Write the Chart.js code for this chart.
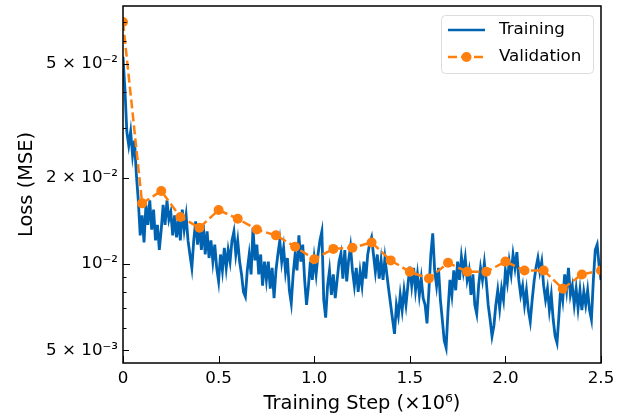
<!DOCTYPE html>
<html>
<head>
<meta charset="utf-8">
<script src="https://cdn.jsdelivr.net/npm/chart.js@4/dist/chart.umd.min.js"></script>
<style>
  html, body { margin: 0; padding: 0; background: #fff; }
  #wrap { width: 629px; height: 418px; position: relative; }
</style>
</head>
<body>
<div id="wrap"><canvas id="lossChart"></canvas></div>
<script>
// training loss, one reading every 0.01 x10^6 steps
var trainStepSize = 0.01;
var trainLoss = [
  0.053, 0.041, 0.029, 0.026, 0.029, 0.024, 0.027, 0.0205, 0.0167, 0.0126,
  0.0148, 0.0119, 0.0161, 0.0137, 0.0167, 0.0132, 0.0155, 0.0121, 0.0137, 0.0112,
  0.0132, 0.0161, 0.0137, 0.0167, 0.0143, 0.0152, 0.0126, 0.0148, 0.0124, 0.0143,
  0.0121, 0.0155, 0.0132, 0.0148, 0.0121, 0.0108, 0.0097, 0.0121, 0.0141, 0.0117,
  0.0137, 0.0112, 0.0137, 0.0108, 0.0130, 0.0105, 0.0121, 0.0102, 0.0117, 0.0097,
  0.0087, 0.0108, 0.0095, 0.0114, 0.0097, 0.0112, 0.0102, 0.0121, 0.0130, 0.0108,
  0.0121, 0.0102, 0.0092, 0.0080, 0.0077, 0.0095, 0.0108, 0.0092, 0.0134, 0.0103,
  0.0117, 0.0092, 0.0108, 0.0084, 0.0102, 0.0088, 0.0102, 0.0082, 0.0097, 0.0076,
  0.0095, 0.0108, 0.0121, 0.0102, 0.0114, 0.0094, 0.0105, 0.0081, 0.0073, 0.0092,
  0.0108, 0.0095, 0.0126, 0.0102, 0.0117, 0.0088, 0.0072, 0.0084, 0.0102, 0.0088,
  0.0105, 0.0092, 0.0108, 0.0121, 0.0130, 0.0075, 0.0065, 0.0084, 0.0095, 0.0078,
  0.0092, 0.0076, 0.0088, 0.0102, 0.0109, 0.0089, 0.0112, 0.0087, 0.0103, 0.0115,
  0.0095, 0.0084, 0.0097, 0.0080, 0.0094, 0.0084, 0.0102, 0.0089, 0.0108, 0.0118,
  0.0124, 0.0108, 0.0094, 0.0108, 0.0089, 0.0103, 0.0088, 0.0105, 0.0092, 0.0081,
  0.0072, 0.0064, 0.0057, 0.0072, 0.0066, 0.0078, 0.0069, 0.0081, 0.0072, 0.0084,
  0.0098, 0.0084, 0.0097, 0.0081, 0.0092, 0.0078, 0.0089, 0.0076, 0.0072, 0.0062,
  0.0081, 0.0108, 0.0128, 0.0095, 0.0084, 0.0097, 0.0075, 0.0064, 0.0054, 0.0051,
  0.0069, 0.0088, 0.0078, 0.0095, 0.0081, 0.0102, 0.0088, 0.0106, 0.0094, 0.0105,
  0.0088, 0.0095, 0.0078, 0.0092, 0.0072, 0.0067, 0.0084, 0.0097, 0.0088, 0.0101,
  0.0087, 0.0072, 0.0064, 0.0056, 0.0061, 0.0072, 0.0081, 0.0070, 0.0082, 0.0075,
  0.0095, 0.0086, 0.0102, 0.0092, 0.0108, 0.0097, 0.0110, 0.0088, 0.0078, 0.0084,
  0.0072, 0.0081, 0.0069, 0.0063, 0.0075, 0.0087, 0.0097, 0.0105, 0.0094, 0.0102,
  0.0084, 0.0075, 0.0082, 0.0069, 0.0078, 0.0064, 0.0056, 0.0053, 0.0066, 0.0084,
  0.0075, 0.0092, 0.0081, 0.0097, 0.0078, 0.0084, 0.0072, 0.0082, 0.0070, 0.0081,
  0.0069, 0.0080, 0.0072, 0.0081, 0.0069, 0.0064, 0.0088, 0.0112, 0.0117, 0.0099, 0.0088
];

var valSteps = [0, 0.1, 0.2, 0.3, 0.4, 0.5, 0.6, 0.7, 0.8, 0.9, 1.0, 1.1, 1.2,
  1.3, 1.4, 1.5, 1.6, 1.7, 1.8, 1.9, 2.0, 2.1, 2.2, 2.3, 2.4, 2.5];
var valLoss = [0.0702, 0.0163, 0.0180, 0.0146, 0.0134, 0.01545, 0.0144, 0.0132,
  0.0126, 0.0115, 0.0104, 0.0113, 0.0114, 0.0119, 0.0103, 0.0094, 0.0089, 0.0101,
  0.0094, 0.0094, 0.0102, 0.0095, 0.0095, 0.0082, 0.0092, 0.0095];

var xTicks = [0, 0.5, 1.0, 1.5, 2.0, 2.5];
var yTicks = [0.005, 0.006, 0.007, 0.008, 0.009, 0.01, 0.02, 0.03, 0.04, 0.05, 0.06, 0.07];
var yTickLabels = { 0.005: "5 × 10⁻³", 0.01: "10⁻²", 0.02: "2 × 10⁻²", 0.05: "5 × 10⁻²" };

var FONT = "'DejaVu Sans', sans-serif";
var BLUE = "#0063b1";
var ORANGE = "#ff7f0e";

function yLabel(v) {
  for (var k in yTickLabels) {
    if (Math.abs(parseFloat(k) - v) < 1e-9) return yTickLabels[k];
  }
  return "";
}

// frame, inward ticks and the legend box
var framePlugin = {
  id: "frame",
  afterDraw: function (chart) {
    var ctx = chart.ctx;
    var a = chart.chartArea;
    var xs = chart.scales.x, ys = chart.scales.y;
    ctx.save();
    ctx.strokeStyle = "#000";
    ctx.lineWidth = 1;
    xTicks.forEach(function (v) {
      var px = Math.round(xs.getPixelForValue(v)) + 0.5;
      ctx.beginPath();
      ctx.moveTo(px, a.bottom);
      ctx.lineTo(px, a.bottom - 7);
      ctx.stroke();
    });
    yTicks.forEach(function (v) {
      var py = Math.round(ys.getPixelForValue(v)) + 0.5;
      var len = yLabel(v) ? (v === 0.01 ? 7 : 6) : 3.5;
      ctx.beginPath();
      ctx.moveTo(a.left, py);
      ctx.lineTo(a.left + len, py);
      ctx.stroke();
    });
    ctx.lineWidth = 1.5;
    ctx.strokeRect(a.left, a.top, a.right - a.left, a.bottom - a.top);

    // legend
    var bx = 441, by = 15, bw = 152, bh = 58;
    ctx.beginPath();
    ctx.roundRect(bx + 0.5, by + 0.5, bw, bh, 4);
    ctx.fillStyle = "rgba(255,255,255,0.8)";
    ctx.fill();
    ctx.strokeStyle = "#dcdcdc";
    ctx.lineWidth = 1;
    ctx.stroke();
    ctx.font = "16.7px " + FONT;
    ctx.textBaseline = "middle";
    ctx.fillStyle = "#000";
    chart.data.datasets.forEach(function (ds, i) {
      var ly = ds.label === "Training" ? 30 : 57;
      ctx.strokeStyle = ds.borderColor;
      ctx.lineWidth = 2.5;
      ctx.setLineDash(ds.borderDash || []);
      ctx.beginPath();
      ctx.moveTo(448, ly);
      ctx.lineTo(485, ly);
      ctx.stroke();
      ctx.setLineDash([]);
      if (ds.pointRadius) {
        ctx.fillStyle = ds.pointBackgroundColor;
        ctx.beginPath();
        ctx.arc(466.5, ly, ds.pointRadius, 0, Math.PI * 2);
        ctx.fill();
      }
      ctx.fillStyle = "#000";
      ctx.fillText(ds.label, 499, ly);
    });
    ctx.restore();
  }
};

var ctx = document.getElementById("lossChart").getContext("2d");
new Chart(ctx, {
  type: "line",
  data: {
    datasets: [
      {
        label: "Validation",
        data: valSteps.map(function (s, i) { return { x: s, y: valLoss[i] }; }),
        borderColor: ORANGE,
        backgroundColor: ORANGE,
        pointBackgroundColor: ORANGE,
        pointBorderWidth: 0,
        pointRadius: 5,
        borderWidth: 2.5,
        borderDash: [9, 4],
        tension: 0,
        clip: 0,
        order: 0
      },
      {
        label: "Training",
        data: trainLoss.map(function (v, i) { return { x: i * trainStepSize, y: v }; }),
        borderColor: BLUE,
        backgroundColor: BLUE,
        pointRadius: 0,
        borderWidth: 2.8,
        tension: 0,
        clip: 0,
        order: 1
      }
    ]
  },
  options: {
    responsive: true,
    maintainAspectRatio: false,
    animation: false,
    layout: { padding: { left: 0, right: 28, top: 6, bottom: 0 } },
    plugins: { legend: { display: false }, tooltip: { enabled: false } },
    scales: {
      x: {
        type: "linear",
        min: 0,
        max: 2.5,
        afterBuildTicks: function (axis) {
          axis.ticks = xTicks.map(function (v) { return { value: v }; });
        },
        afterFit: function (scale) {
          scale.height = 55;
          scale.paddingLeft = 0;
          scale.paddingRight = 0;
        },
        grid: { display: false, drawTicks: false },
        border: { display: false },
        ticks: {
          padding: 6,
          color: "#000",
          font: { family: FONT, size: 16.7 },
          maxRotation: 0,
          autoSkip: false,
          callback: function (v) { return v === 0 ? "0" : v.toFixed(1); }
        },
        title: {
          display: true,
          text: "Training Step (×10⁶)",
          color: "#000",
          font: { family: FONT, size: 19.4 },
          padding: { top: 0, bottom: 2 }
        }
      },
      y: {
        type: "logarithmic",
        min: 0.00451,
        max: 0.0798,
        afterBuildTicks: function (axis) {
          axis.ticks = yTicks.map(function (v) { return { value: v }; });
        },
        afterFit: function (scale) {
          scale.width = 123;
          scale.paddingTop = 0;
          scale.paddingBottom = 0;
        },
        grid: { display: false, drawTicks: false },
        border: { display: false },
        ticks: {
          padding: 5,
          color: "#000",
          font: { family: FONT, size: 16.7 },
          autoSkip: false,
          callback: function (v) { return yLabel(v); }
        },
        title: {
          display: true,
          text: "Loss (MSE)",
          color: "#000",
          font: { family: FONT, size: 19.4 },
          padding: { top: 15, bottom: 0 }
        }
      }
    }
  },
  plugins: [framePlugin]
});
</script>
</body>
</html>
